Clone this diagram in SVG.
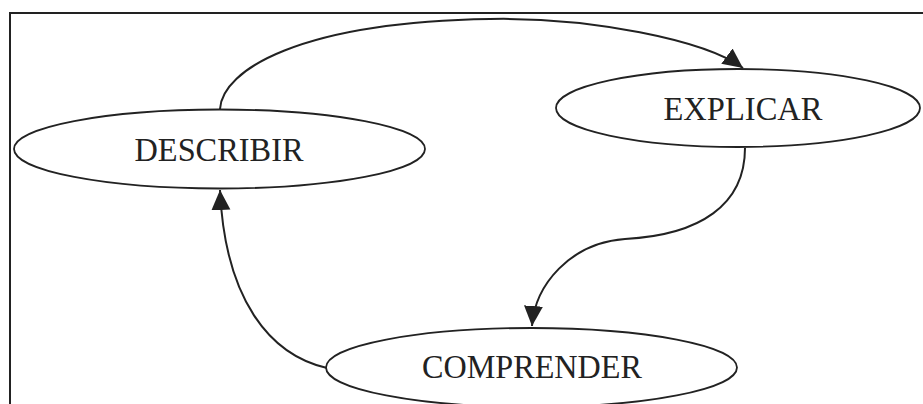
<svg xmlns="http://www.w3.org/2000/svg" width="923" height="404" viewBox="0 0 923 404">
  <style>
    .node ellipse { fill: #ffffff; stroke: #222222; stroke-width: 1.8; }
    .node text { font-family: "Liberation Serif", "Times New Roman", serif; font-size: 34px; fill: #222222; text-anchor: middle; }
    .edge { fill: none; stroke: #222222; stroke-width: 2; }
    .frame { fill: none; stroke: #222222; stroke-width: 2; }
  </style>
  <defs>
    <marker id="arrow" viewBox="0 0 20 20" refX="20" refY="10" markerWidth="20" markerHeight="20" markerUnits="userSpaceOnUse" orient="auto">
      <path d="M0,0.5 L20,10 L0,19.5 Z" fill="#222222"/>
    </marker>
  </defs>
  <rect width="923" height="404" fill="#ffffff"/>
  <path class="frame" d="M10,404 L10,13 L923,13"/>
  <g id="connectors">
    <path class="edge" d="M220,109 C222,70 300,22 490,19 C590,17 705,40 743,68" marker-end="url(#arrow)"/>
    <path class="edge" d="M745,148 C745,205 700,235 625,239 C570,243 535,285 532,326" marker-end="url(#arrow)"/>
    <path class="edge" d="M327,368 C270,355 225,300 220,190" marker-end="url(#arrow)"/>
  </g>
  <g id="describir" class="node">
    <ellipse cx="219.5" cy="149" rx="205.5" ry="39.5"/>
    <text x="219" y="161" textLength="169" lengthAdjust="spacingAndGlyphs">DESCRIBIR</text>
  </g>
  <g id="explicar" class="node">
    <ellipse cx="738" cy="108" rx="182" ry="39"/>
    <text x="743" y="120" textLength="159" lengthAdjust="spacingAndGlyphs">EXPLICAR</text>
  </g>
  <g id="comprender" class="node">
    <ellipse cx="531.5" cy="367.5" rx="205.5" ry="39.5"/>
    <text x="532" y="378" textLength="220" lengthAdjust="spacingAndGlyphs">COMPRENDER</text>
  </g>
</svg>
